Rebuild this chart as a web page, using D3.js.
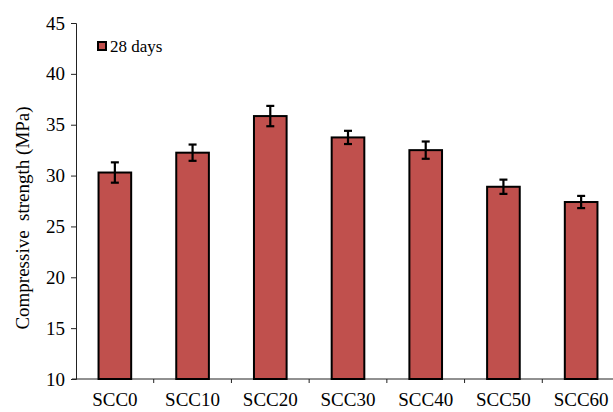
<!DOCTYPE html>
<html>
<head>
<meta charset="utf-8">
<script src="https://cdn.jsdelivr.net/npm/d3@7"></script>
<style>
	body { margin: 0; background: #fff; }
	text { font-family: "Liberation Serif", "Times New Roman", serif; fill: #000; }
</style>
</head>
<body>
<div class="container"></div>
<script>
var categories = ["SCC0", "SCC10", "SCC20", "SCC30", "SCC40", "SCC50", "SCC60"];
var strength = [30.3, 32.25, 35.85, 33.75, 32.5, 28.9, 27.4];
var errors = [1.0, 0.8, 1.0, 0.65, 0.85, 0.7, 0.6];
var yTicks = [10, 15, 20, 25, 30, 35, 40, 45];
var seriesName = "28 days";

var charter = function () {
	var width = 613, height = 412;
	var left = 76, right = 620, top = 23, bottom = 379;

	var init = function () {
		var paper = d3.select('.container').append("svg")
			.attr("width", width)
			.attr("height", height);

		var x = d3.scaleBand().domain(categories).range([left, right]);
		var y = d3.scaleLinear().domain([10, 45]).range([bottom, top]);
		var barW = x.bandwidth() * 0.42;

		// y axis
		var yAxis = paper.append("g")
			.attr("transform", "translate(" + left + ",0)")
			.call(d3.axisLeft(y).tickValues(yTicks).tickSize(5).tickPadding(6));
		yAxis.select(".domain").attr("stroke", "#222");
		yAxis.selectAll(".tick line").attr("stroke", "#222");
		yAxis.selectAll("text").style("font-size", "19px").style("font-family", "Liberation Serif");

		// x axis: ticks sit between categories
		var xAxis = paper.append("g")
			.attr("transform", "translate(0," + bottom + ")");
		xAxis.append("line")
			.attr("x1", left - 4).attr("x2", right)
			.attr("y1", 0).attr("y2", 0)
			.attr("stroke", "#222");
		xAxis.selectAll(".sep")
			.data(categories.slice(1))
			.enter().append("line")
			.attr("x1", function (d) { return x(d); })
			.attr("x2", function (d) { return x(d); })
			.attr("y1", 0).attr("y2", 4)
			.attr("stroke", "#222");
		xAxis.selectAll(".lab")
			.data(categories)
			.enter().append("text")
			.attr("x", function (d) { return x(d) + x.bandwidth() / 2; })
			.attr("y", 27)
			.attr("text-anchor", "middle")
			.style("font-size", "19px")
			.text(function (d) { return d; });

		// bars
		paper.selectAll(".bar")
			.data(categories)
			.enter().append("rect")
			.attr("x", function (d) { return x(d) + (x.bandwidth() - barW) / 2; })
			.attr("y", function (d, i) { return y(strength[i]); })
			.attr("width", barW)
			.attr("height", function (d, i) { return bottom - y(strength[i]); })
			.attr("fill", "#C0504D")
			.attr("stroke", "#000")
			.attr("stroke-width", 2);

		// error bars
		var eb = paper.selectAll(".err")
			.data(categories)
			.enter().append("g")
			.attr("stroke", "#000")
			.attr("stroke-width", 2.2);
		var cx = function (d) { return x(d) + x.bandwidth() / 2; };
		eb.append("line")
			.attr("x1", cx).attr("x2", cx)
			.attr("y1", function (d, i) { return y(strength[i] + errors[i]); })
			.attr("y2", function (d, i) { return y(strength[i] - errors[i]); });
		eb.append("line")
			.attr("x1", function (d) { return cx(d) - 4; })
			.attr("x2", function (d) { return cx(d) + 4; })
			.attr("y1", function (d, i) { return y(strength[i] + errors[i]); })
			.attr("y2", function (d, i) { return y(strength[i] + errors[i]); });
		eb.append("line")
			.attr("x1", function (d) { return cx(d) - 4; })
			.attr("x2", function (d) { return cx(d) + 4; })
			.attr("y1", function (d, i) { return y(strength[i] - errors[i]); })
			.attr("y2", function (d, i) { return y(strength[i] - errors[i]); });

		// legend
		paper.append("rect")
			.attr("x", 98).attr("y", 42)
			.attr("width", 8).attr("height", 8)
			.attr("fill", "#C0504D")
			.attr("stroke", "#000")
			.attr("stroke-width", 2);
		paper.append("text")
			.attr("x", 110).attr("y", 52)
			.style("font-size", "17px")
			.text(seriesName);

		// y title
		paper.append("text")
			.attr("transform", "translate(29,218) rotate(-90)")
			.attr("text-anchor", "middle")
			.style("font-size", "19px")
			.style("white-space", "pre")
			.text("Compressive  strength (MPa)");
	};

	return Object.freeze({init: init});
};

var c = charter();
c.init();
</script>
</body>
</html>
